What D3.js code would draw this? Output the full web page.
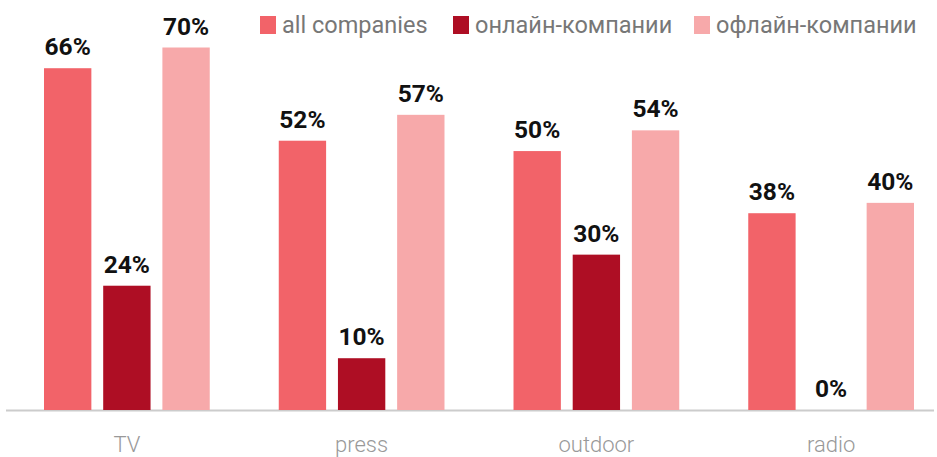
<!DOCTYPE html>
<html>
<head>
<meta charset="utf-8">
<script src="https://cdn.jsdelivr.net/npm/d3@7"></script>
<style>
  html, body { margin: 0; padding: 0; background: #fff; }
  svg { display: block; }
</style>
</head>
<body>
<svg id="chart" width="937" height="457"></svg>
<script>
// Media channels and the share of companies using each one
const categories = ["TV", "press", "outdoor", "radio"];
const seriesNames = ["all companies", "онлайн-компании", "офлайн-компании"];
const allCompanies = [66, 52, 50, 38];
const onlineCompanies = [24, 10, 30, 0];
const offlineCompanies = [70, 57, 54, 40];
const seriesColors = ["#f26369", "#ae0e24", "#f7a9aa"];

const seriesValues = [allCompanies, onlineCompanies, offlineCompanies];
const rows = categories.map((c, i) => ({
  category: c,
  values: seriesNames.map((s, j) => ({ series: s, value: seriesValues[j][i] }))
}));

const svg = d3.select("#chart");
const baseY = 410;

const x0 = d3.scaleBand()
  .domain(categories)
  .range([9.5, 948.5])
  .paddingInner(0.294)
  .paddingOuter(0.147);

const x1 = d3.scaleBand()
  .domain(seriesNames)
  .range([0, x0.bandwidth()])
  .paddingInner(0.2);

const y = d3.scaleLinear().domain([0, 70]).range([baseY, 47.5]);

const color = d3.scaleOrdinal().domain(seriesNames).range(seriesColors);

// Baseline
svg.append("line")
  .attr("x1", 6).attr("x2", 934)
  .attr("y1", baseY + 0.5).attr("y2", baseY + 0.5)
  .attr("stroke", "#cccccc").attr("stroke-width", 2);

const groups = svg.append("g").selectAll("g")
  .data(rows)
  .join("g")
  .attr("transform", d => `translate(${x0(d.category)},0)`);

groups.selectAll("rect")
  .data(d => d.values)
  .join("rect")
  .attr("x", d => x1(d.series))
  .attr("width", x1.bandwidth())
  .attr("y", d => y(d.value))
  .attr("height", d => baseY - y(d.value))
  .attr("fill", d => color(d.series));

groups.selectAll("text.val")
  .data(d => d.values)
  .join("text")
  .attr("class", "val")
  .attr("x", d => x1(d.series) + x1.bandwidth() / 2)
  .attr("y", d => y(d.value) - 13)
  .attr("text-anchor", "middle")
  .attr("font-family", "Roboto, sans-serif")
  .attr("font-weight", 700)
  .attr("font-size", 24.5)
  .attr("fill", "#111")
  .text(d => d.value + "%");

// Category axis labels
const xAxis = d3.axisBottom(x0).tickSize(0).tickPadding(0);
const axisG = svg.append("g")
  .attr("transform", `translate(0,${baseY})`)
  .call(xAxis);
axisG.select(".domain").remove();
axisG.selectAll("text")
  .attr("y", 42)
  .attr("dy", 0)
  .attr("font-family", "Roboto, sans-serif")
  .attr("font-size", 22)
  .attr("font-weight", 300)
  .attr("fill", "#999");

// Legend
const legendX = [260, 453, 694];
const legend = svg.append("g").selectAll("g")
  .data(seriesNames)
  .join("g")
  .attr("transform", (d, i) => `translate(${legendX[i]},0)`);
legend.append("rect")
  .attr("x", 0).attr("y", 16)
  .attr("width", 16).attr("height", 18)
  .attr("fill", d => color(d));
legend.append("text")
  .attr("x", 22).attr("y", 33)
  .attr("font-family", "Roboto, sans-serif")
  .attr("font-size", 23.5)
  .attr("fill", "#777")
  .text(d => d);
</script>
</body>
</html>
